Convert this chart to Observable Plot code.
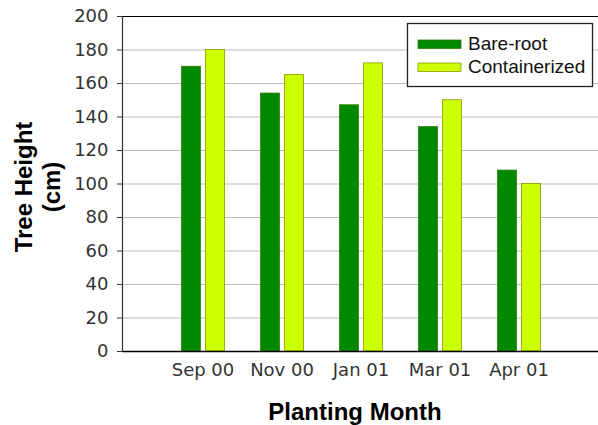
<!DOCTYPE html>
<html>
<head>
<meta charset="utf-8">
<script src="https://cdn.jsdelivr.net/npm/d3@7"></script>
<script src="https://cdn.jsdelivr.net/npm/@observablehq/plot@0.6"></script>
<style>
  html, body { margin: 0; padding: 0; background: #fff; }
  #chart { width: 598px; height: 425px; }
</style>
</head>
<body>
<div id="chart"></div>
<script>
const months = ["Sep 00", "Nov 00", "Jan 01", "Mar 01", "Apr 01"];
const series = ["Bare-root", "Containerized"];
const bareRoot = [170, 154, 147, 134, 108];
const containerized = [180, 165, 172, 150, 100];
const yTicks = [0, 20, 40, 60, 80, 100, 120, 140, 160, 180, 200];
const colors = ["#008800", "#ccff00"];
const strokes = ["#2f7f00", "#8f9600"];

const bareData = months.map((m, i) => ({month: m, value: bareRoot[i]}));
const contData = months.map((m, i) => ({month: m, value: containerized[i]}));

const font = "'Liberation Sans', Arial, Helvetica, sans-serif";
const tickFont = "'DejaVu Sans', 'Liberation Sans', sans-serif";

const plot = Plot.plot({
  width: 598,
  height: 425,
  marginLeft: 122,
  marginRight: 0,
  marginTop: 16,
  marginBottom: 74,
  style: {fontFamily: tickFont, fontSize: "18px", color: "#333", background: "#fff"},
  x: {domain: months, paddingInner: 0, paddingOuter: 0.5, label: null},
  y: {domain: [0, 200], ticks: yTicks, label: null},
  marks: [
    Plot.gridY(yTicks, {stroke: "#bbb", strokeOpacity: 1}),
    Plot.axisY(yTicks, {tickSize: 5, tickPadding: 9, stroke: "#333", fill: "#333", fontSize: 18}),
    Plot.axisX({tickSize: 0, tickPadding: 12, fill: "#333", fontSize: 18}),
    Plot.barY(bareData, {x: "month", y: "value", fill: colors[0], stroke: strokes[0], strokeWidth: 0.8, insetLeft: 18.5, insetRight: 41.5}),
    Plot.barY(contData, {x: "month", y: "value", fill: colors[1], stroke: strokes[1], strokeWidth: 0.8, insetLeft: 42.5, insetRight: 17.5}),
    Plot.ruleY([0], {stroke: "#000", strokeWidth: 1.5}),
    Plot.ruleY([200], {stroke: "#000", strokeWidth: 1.2}),
    Plot.frame({anchor: "left", stroke: "#333", strokeWidth: 1.2})
  ]
});

const svg = d3.select(plot);

// Axis titles
svg.append("text")
  .attr("x", 355).attr("y", 420)
  .attr("text-anchor", "middle")
  .style("font-family", font).style("font-weight", "bold").style("font-size", "24px").attr("fill", "#000")
  .text("Planting Month");

const yTitle = svg.append("text")
  .attr("transform", "translate(32,187) rotate(-90)")
  .attr("text-anchor", "middle")
  .style("font-family", font).style("font-weight", "bold").style("font-size", "24px").attr("fill", "#000");
yTitle.append("tspan").attr("x", 0).attr("y", 0).text("Tree Height");
yTitle.append("tspan").attr("x", 0).attr("y", 28).text("(cm)");

// Legend
const lg = svg.append("g").attr("text-anchor", "start");
lg.append("rect").attr("x", 407.5).attr("y", 23.5).attr("width", 185).attr("height", 63)
  .attr("fill", "#fff").attr("stroke", "#222").attr("stroke-width", 1.3);
series.forEach((s, i) => {
  lg.append("rect").attr("x", 418).attr("y", 40 + i * 23).attr("width", 43).attr("height", 8.5)
    .attr("fill", colors[i]).attr("stroke", strokes[i]).attr("stroke-width", 0.8);
  lg.append("text").attr("x", 468).attr("y", 49.5 + i * 23).attr("text-anchor", "start")
    .style("font-family", font).style("font-size", "19px").attr("fill", "#111").text(s);
});

document.getElementById("chart").appendChild(plot);
</script>
</body>
</html>
